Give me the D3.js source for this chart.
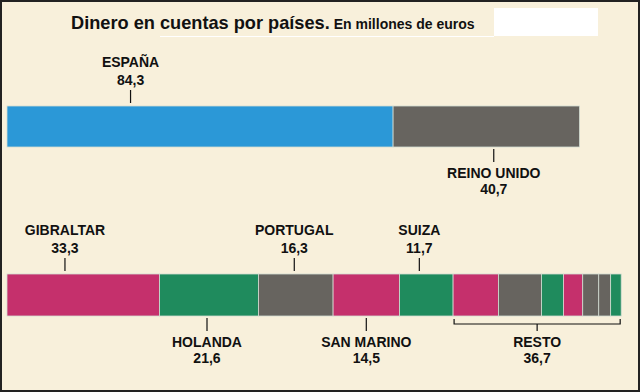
<!DOCTYPE html>
<html>
<head>
<meta charset="utf-8">
<script src="https://cdn.jsdelivr.net/npm/d3@7"></script>
<style>
  body { margin: 0; background: #f8f0db; }
  text { font-family: "Liberation Sans", Arial, sans-serif; font-weight: bold; fill: #111; }
</style>
</head>
<body>
<div class="chart"></div>
<script>
// data (millones de euros)
var row1Names = ["ESPAÑA", "REINO UNIDO"];
var row1Values = [84.3, 40.7];
var row1Colors = ["blue", "grey"];

var row2Names = ["GIBRALTAR", "HOLANDA", "PORTUGAL", "SAN MARINO", "SUIZA", "RESTO"];
var row2Values = [33.3, 21.6, 16.3, 14.5, 11.7, 36.7];
var row2Colors = ["pink", "green", "grey", "pink", "green", null];

// pieces inside "RESTO"
var restoValues = [9.9, 9.4, 4.8, 4.2, 3.5, 2.6, 2.3];
var restoColors = ["pink", "grey", "green", "pink", "grey", "grey", "green"];

// label layout: side of the bar and where along the segment (fraction)
var row1Side = ["top", "bottom"];
var row1Anchor = [0.32, 0.54];
var row2Side = ["top", "bottom", "top", "bottom", "top", "bottom"];
var row2Anchor = [0.38, 0.48, 0.48, 0.5, 0.37, 0.5];

var palette = {
  blue: "#2b98d7",
  grey: "#67645f",
  pink: "#c5306c",
  green: "#1f8b5d"
};

var svgWidth = 640, svgHeight = 392;

var svg = d3.select(".chart").append("svg")
  .attr("width", svgWidth)
  .attr("height", svgHeight)
  .style("display", "block");

// background + frame
svg.append("rect")
  .attr("x", 1).attr("y", 1)
  .attr("width", svgWidth - 2).attr("height", svgHeight - 2)
  .attr("fill", "#f8f0db")
  .attr("stroke", "#222")
  .attr("stroke-width", 2);

// title
var title = svg.append("text")
  .attr("x", 71)
  .attr("y", 29);
title.append("tspan").attr("font-size", "18.2px").text("Dinero en cuentas por países.");
title.append("tspan").attr("font-size", "14px").attr("dx", 4).text("En millones de euros");

svg.append("line")
  .attr("x1", 160).attr("x2", 494)
  .attr("y1", 36.5).attr("y2", 36.5)
  .attr("stroke", "#fff")
  .attr("stroke-width", 1);

svg.append("rect")
  .attr("x", 494).attr("y", 8)
  .attr("width", 104).attr("height", 28)
  .attr("fill", "#fff");

// shared scale for both rows
var total2 = d3.sum(row2Values);
var x = d3.scaleLinear()
  .domain([0, total2])
  .range([7, 7 + 4.58 * total2]);

function stack(values) {
  var acc = 0;
  return values.map(function(v) {
    var s = { x0: acc, x1: acc + v, v: v };
    acc += v;
    return s;
  });
}

function fmt(v) {
  return String(v).replace(".", ",");
}

function drawRow(names, values, colors, sides, anchors, barTop, barHeight) {
  var segs = stack(values);
  var g = svg.append("g");

  g.selectAll("rect.seg")
    .data(segs.filter(function(d, i) { return colors[i]; }))
    .enter()
    .append("rect")
    .attr("class", "seg")
    .attr("x", d => x(d.x0))
    .attr("y", barTop)
    .attr("width", d => x(d.x1) - x(d.x0))
    .attr("height", barHeight)
    .attr("fill", function(d) { return palette[colors[segs.indexOf(d)]]; })
    .attr("stroke", "#d3dcd2")
    .attr("stroke-width", 0.8);

  segs.forEach(function(d, i) {
    var cx = x(d.x0) + (x(d.x1) - x(d.x0)) * anchors[i];
    var barBottom = barTop + barHeight;
    if (sides[i] === "top") {
      g.append("line")
        .attr("x1", cx).attr("x2", cx)
        .attr("y1", barTop - 16).attr("y2", barTop - 3)
        .attr("stroke", "#111").attr("stroke-width", 1.2);
      g.append("text").attr("x", cx).attr("y", barTop - 39)
        .attr("text-anchor", "middle").attr("font-size", "14px").text(names[i]);
      g.append("text").attr("x", cx).attr("y", barTop - 21)
        .attr("text-anchor", "middle").attr("font-size", "14px").text(fmt(d.v));
    } else {
      var tickTop = barBottom + 2;
      if (names[i] === "RESTO") {
        // bracket under the rest pieces
        var bx0 = x(d.x0) + 1, bx1 = x(d.x1) - 1, by = barBottom + 8;
        g.append("path")
          .attr("d", `M${bx0},${barBottom + 3}V${by}H${bx1}V${barBottom + 3}`)
          .attr("fill", "none").attr("stroke", "#111").attr("stroke-width", 1.2);
        tickTop = by;
      }
      g.append("line")
        .attr("x1", cx).attr("x2", cx)
        .attr("y1", tickTop).attr("y2", barBottom + 15)
        .attr("stroke", "#111").attr("stroke-width", 1.2);
      g.append("text").attr("x", cx).attr("y", barBottom + 31)
        .attr("text-anchor", "middle").attr("font-size", "14px").text(names[i]);
      g.append("text").attr("x", cx).attr("y", barBottom + 47)
        .attr("text-anchor", "middle").attr("font-size", "14px").text(fmt(d.v));
    }
  });
  return segs;
}

drawRow(row1Names, row1Values, row1Colors, row1Side, row1Anchor, 106, 41);
var segs2 = drawRow(row2Names, row2Values, row2Colors, row2Side, row2Anchor, 274, 42);

// pieces of RESTO
var resto = segs2[segs2.length - 1];
var restoSegs = stack(restoValues).map(function(d, i) {
  return { x0: resto.x0 + d.x0, x1: resto.x0 + d.x1, c: restoColors[i] };
});
svg.append("g").selectAll("rect")
  .data(restoSegs)
  .enter()
  .append("rect")
  .attr("x", d => x(d.x0))
  .attr("y", 274)
  .attr("width", d => x(d.x1) - x(d.x0))
  .attr("height", 42)
  .attr("fill", d => palette[d.c])
  .attr("stroke", "#d3dcd2")
  .attr("stroke-width", 0.8);
</script>
</body>
</html>
